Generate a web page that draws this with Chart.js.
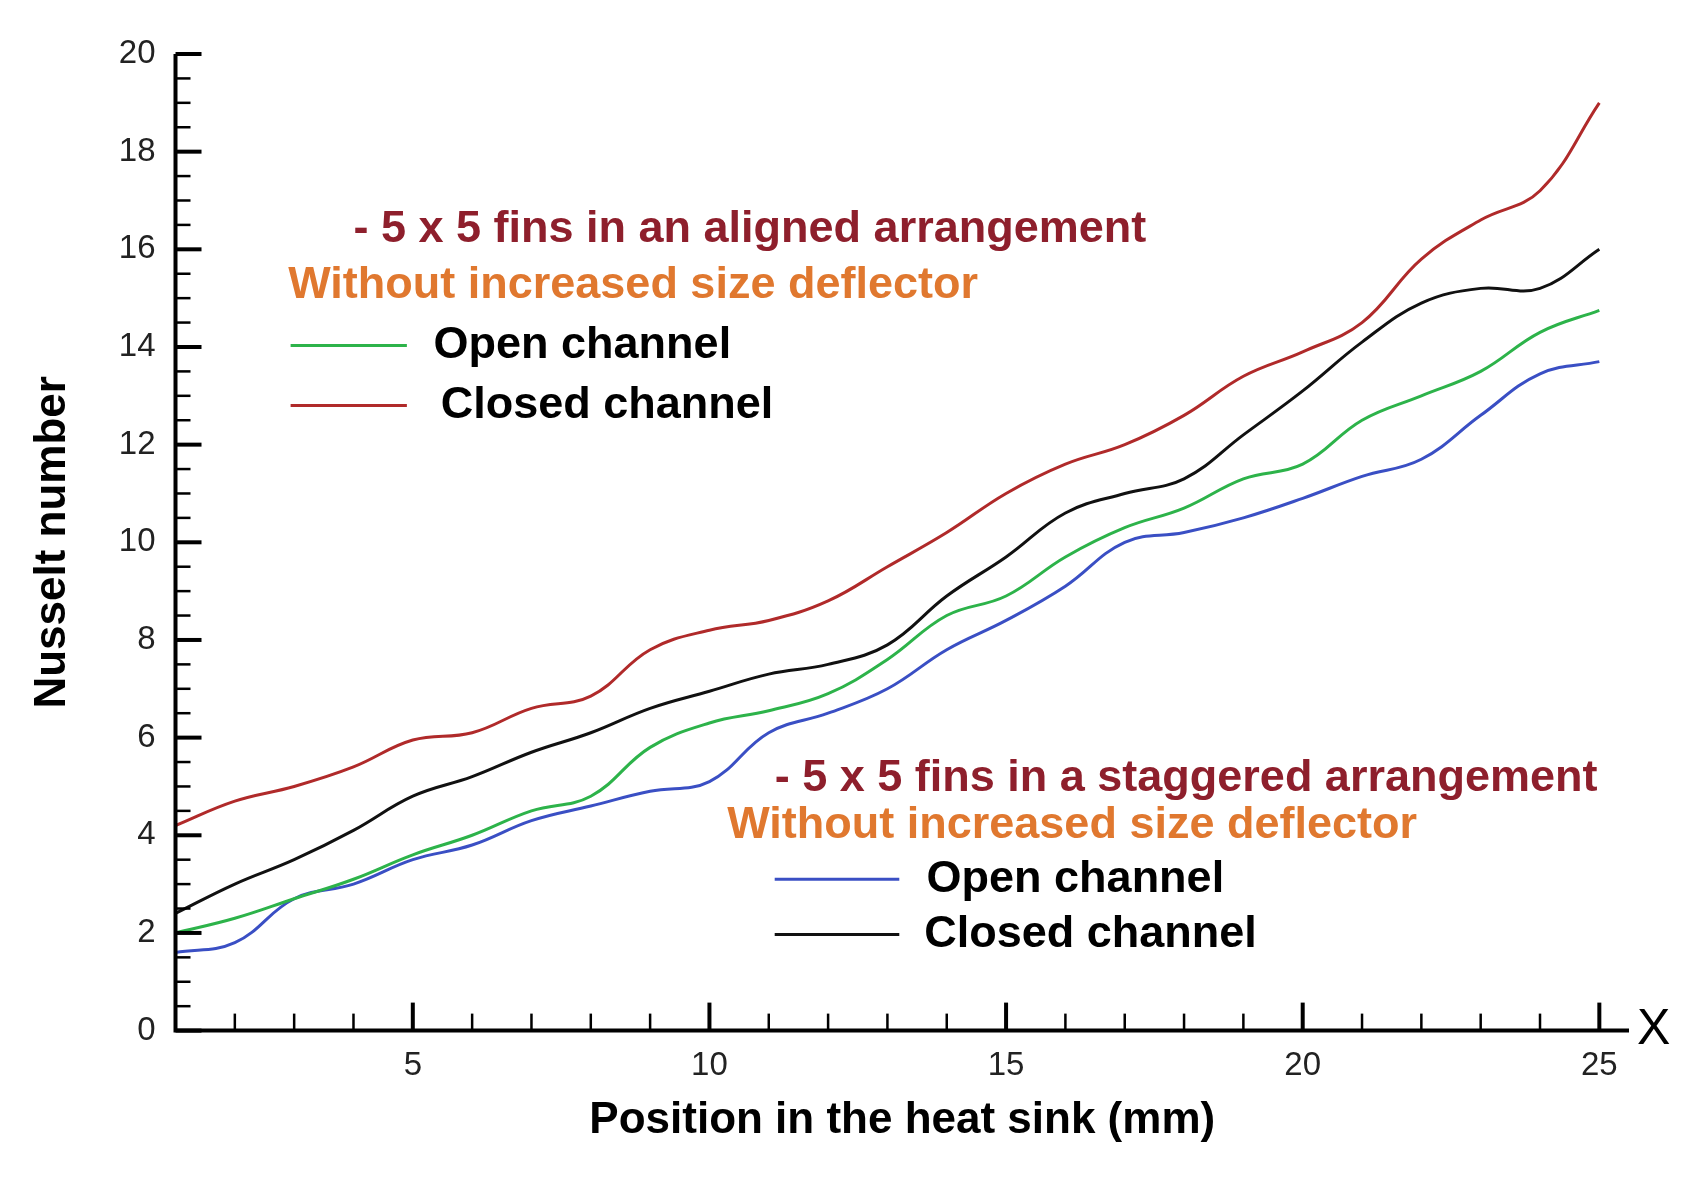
<!DOCTYPE html>
<html>
<head>
<script src="https://cdn.jsdelivr.net/npm/chart.js@4"></script>
<style>body{margin:0;background:#fff}</style>
</head>
<body>
<canvas id="chart" width="1691" height="1179"></canvas>
<script>
const xPos = [1, 2, 3, 4, 5, 6, 7, 8, 9, 10, 11, 12, 13, 14, 15, 16, 17, 18, 19, 20, 21, 22, 23, 24, 25];
const closedAligned = [4.2, 4.7, 5.0, 5.4, 5.95, 6.1, 6.6, 6.85, 7.8, 8.2, 8.4, 8.8, 9.5, 10.2, 11.0, 11.6, 12.0, 12.6, 13.4, 13.9, 14.5, 15.8, 16.6, 17.2, 19.0];
const closedStaggered = [2.4, 3.0, 3.5, 4.1, 4.8, 5.2, 5.7, 6.1, 6.6, 6.95, 7.3, 7.5, 7.9, 8.9, 9.7, 10.6, 11.0, 11.3, 12.2, 13.1, 14.1, 14.9, 15.2, 15.2, 16.0];
const openAligned = [2.0, 2.3, 2.7, 3.1, 3.6, 4.0, 4.5, 4.8, 5.8, 6.3, 6.55, 6.9, 7.6, 8.5, 8.9, 9.7, 10.3, 10.7, 11.3, 11.6, 12.5, 13.0, 13.5, 14.3, 14.75];
const openStaggered = [1.6, 1.8, 2.7, 3.0, 3.5, 3.8, 4.3, 4.6, 4.9, 5.1, 6.1, 6.5, 7.0, 7.8, 8.4, 9.1, 10.0, 10.2, 10.5, 10.9, 11.35, 11.7, 12.6, 13.45, 13.7];
const xTicks = [5, 10, 15, 20, 25];
const yTicks = [0, 2, 4, 6, 8, 10, 12, 14, 16, 18, 20];

const DARKRED = '#8e1f2c', ORANGE = '#e0782f';

// text blocks anchored in data coordinates: [x, y, text, color]
const notes = [
    [4.0, 16.4, '- 5 x 5 fins in an aligned arrangement', DARKRED],
    [2.9, 15.25, 'Without increased size deflector', ORANGE],
    [11.1, 5.17, '- 5 x 5 fins in a staggered arrangement', DARKRED],
    [10.3, 4.2, 'Without increased size deflector', ORANGE]
];
// legend entries: [x1, x2, y, textX, label, color]
const legendItems = [
    [2.94, 4.9, 14.03, 5.35, 'Open channel', '#2db34a'],
    [2.94, 4.9, 12.8, 5.47, 'Closed channel', '#b02a2a'],
    [11.1, 13.2, 3.1, 13.66, 'Open channel', '#3a4fc4'],
    [11.1, 13.2, 1.97, 13.62, 'Closed channel', '#111111']
];

function series(vals) {
    return xPos.map((x, i) => ({x: x, y: vals[i]}));
}

const overlay = {
    id: 'overlay',
    afterDraw(chart) {
        const c = chart.ctx, xs = chart.scales.x, ys = chart.scales.y;
        const left = xs.left, bottom = ys.bottom;
        c.save();
        c.strokeStyle = '#000';
        c.lineWidth = 4;
        c.beginPath();
        c.moveTo(left, ys.top);
        c.lineTo(left, bottom);
        c.lineTo(xs.right, bottom);
        c.stroke();
        // ticks pointing into the plot
        for (let v = 0; v <= 20; v += 0.5) {
            const p = ys.getPixelForValue(v), len = (v % 2 === 0) ? 26 : 15;
            c.lineWidth = v % 2 === 0 ? 4 : 2.5;
            c.beginPath(); c.moveTo(left, p); c.lineTo(left + len, p); c.stroke();
        }
        for (let v = 2; v <= 25; v += 1) {
            const p = xs.getPixelForValue(v), len = (v % 5 === 0) ? 28 : 17;
            c.lineWidth = v % 5 === 0 ? 4 : 2.5;
            c.beginPath(); c.moveTo(p, bottom); c.lineTo(p, bottom - len); c.stroke();
        }
        c.fillStyle = '#000';
        c.font = '50px "Liberation Sans", Arial';
        c.textBaseline = 'middle';
        c.fillText('X', xs.right + 8, bottom);
        c.font = 'bold 45px "Liberation Sans", Arial';
        notes.forEach(n => {
            c.fillStyle = n[3];
            c.fillText(n[2], xs.getPixelForValue(n[0]), ys.getPixelForValue(n[1]));
        });
        legendItems.forEach(l => {
            const py = ys.getPixelForValue(l[2]);
            c.strokeStyle = l[5];
            c.lineWidth = 3;
            c.beginPath();
            c.moveTo(xs.getPixelForValue(l[0]), py);
            c.lineTo(xs.getPixelForValue(l[1]), py);
            c.stroke();
            c.fillStyle = '#000';
            c.fillText(l[4], xs.getPixelForValue(l[3]), py);
        });
        c.restore();
    }
};

const line = (label, vals, color) => ({
    label: label, data: series(vals), borderColor: color, borderWidth: 3,
    pointRadius: 0, tension: 0.4, showLine: true, fill: false
});

new Chart(document.getElementById('chart').getContext('2d'), {
    type: 'scatter',
    data: {
        datasets: [
            line('Closed aligned', closedAligned, '#b02a2a'),
            line('Closed staggered', closedStaggered, '#111111'),
            line('Open aligned', openAligned, '#2db34a'),
            line('Open staggered', openStaggered, '#3a4fc4')
        ]
    },
    options: {
        responsive: false,
        animation: false,
        layout: {padding: {top: 54, right: 62, bottom: 28, left: 22}},
        plugins: {legend: {display: false}, tooltip: {enabled: false}},
        scales: {
            x: {
                type: 'linear', min: 1, max: 25.5,
                afterBuildTicks: s => { s.ticks = xTicks.map(v => ({value: v})); },
                grid: {display: false}, border: {display: false},
                ticks: {color: '#222', font: {size: 33, family: '"Liberation Sans", Arial'}, padding: 8},
                title: {display: true, text: 'Position in the heat sink (mm)', color: '#000',
                    font: {size: 44, weight: 'bold', family: '"Liberation Sans", Arial'}, padding: {top: 0}}
            },
            y: {
                type: 'linear', min: 0, max: 20,
                afterBuildTicks: s => { s.ticks = yTicks.map(v => ({value: v})); },
                grid: {display: false}, border: {display: false},
                ticks: {color: '#222', font: {size: 33, family: '"Liberation Sans", Arial'}, padding: 12},
                title: {display: true, text: 'Nusselt number', color: '#000',
                    font: {size: 44, weight: 'bold', family: '"Liberation Sans", Arial'}, padding: {bottom: 28}}
            }
        }
    },
    plugins: [overlay]
});
</script>
</body>
</html>
